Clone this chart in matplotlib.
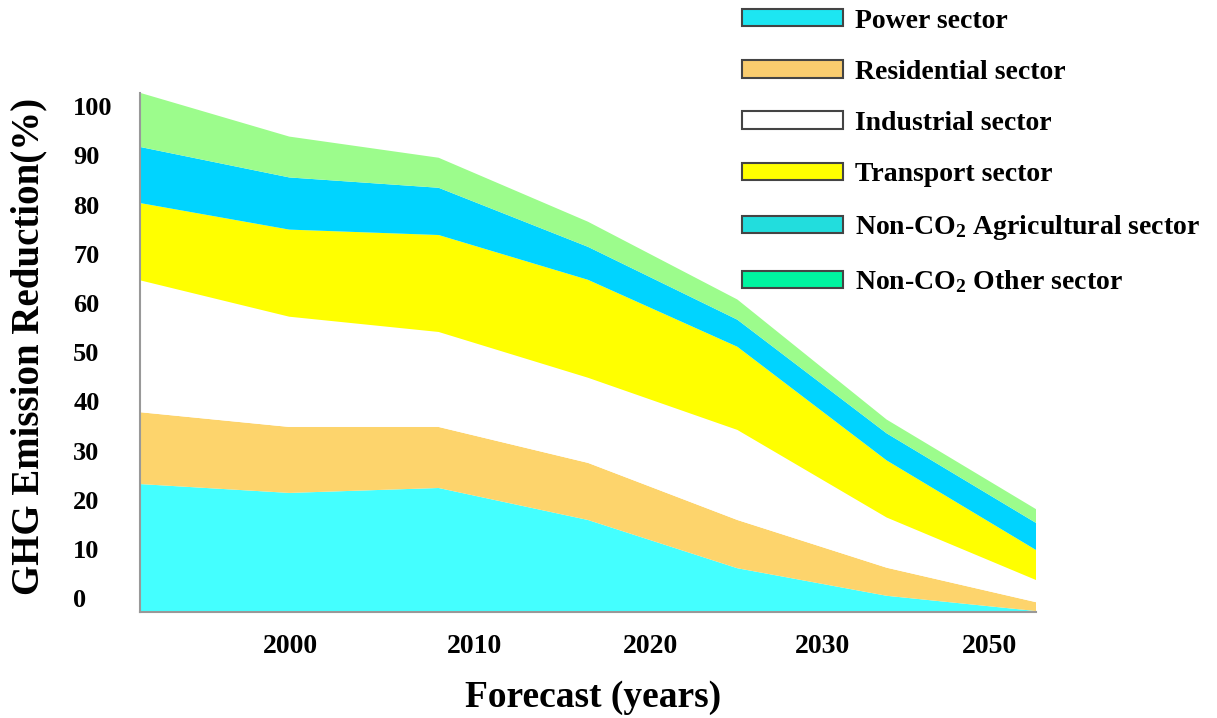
import numpy as np
import matplotlib.pyplot as plt
from matplotlib.patches import Patch

plt.rcParams['font.family'] = 'Liberation Serif'
plt.rcParams['font.weight'] = 'bold'
plt.rcParams['axes.labelweight'] = 'bold'
plt.rcParams['mathtext.default'] = 'regular'

# Вузли прогнозу (7 точок) і внесок кожного сектору, %
points = np.arange(7)
power = [26.0, 24.2, 25.2, 18.7, 8.9, 3.3, 0.2]
residential = [14.6, 13.4, 12.4, 11.6, 9.8, 5.7, 1.8]
industrial = [26.8, 22.4, 19.3, 17.3, 18.3, 10.2, 4.5]
transport = [15.7, 17.7, 19.7, 19.9, 16.9, 11.6, 6.1]
agricultural = [11.4, 10.6, 9.6, 6.7, 5.5, 5.5, 5.5]
other = [11.0, 8.3, 6.1, 5.1, 4.1, 2.8, 2.8]

sectors = ['Power sector', 'Residential sector', 'Industrial sector',
           'Transport sector', 'Non-CO$_2$ Agricultural sector',
           'Non-CO$_2$ Other sector']
fill_colors = ['#44FFFF', '#FDD46C', '#FFFFFF', '#FFFF00', '#00D4FF', '#9CFC8C']
legend_colors = ['#1DE6F2', '#F9CC6E', '#FFFFFF', '#FFFF00', '#22DDDD', '#00F5A0']

year_labels = ['2000', '2010', '2020', '2030', '2050']
year_pos = [1.01, 2.24, 3.42, 4.57, 5.69]   # підписи не збігаються з вузлами
pct_labels = [str(v) for v in range(0, 101, 10)]

fig = plt.figure(figsize=(12.17, 7.18), dpi=100)
ax = fig.add_axes([0.115, 0.1476, 0.7363, 0.741])

ax.stackplot(points, power, residential, industrial, transport,
             agricultural, other, colors=fill_colors, linewidth=0)

ax.set_xlim(0, 6)
ax.set_ylim(0, 108.1)

# підписи осі Y в оригіналі трохи вище нульової лінії
ax.set_yticks(np.arange(0, 101, 10) + 2.8)
ax.set_yticklabels(pct_labels, fontsize=19, ha='left')
ax.tick_params(axis='y', length=0, pad=48)
ax.set_xticks(year_pos)
ax.set_xticklabels(year_labels, fontsize=20)
ax.tick_params(axis='x', length=0, pad=16)

for side in ['top', 'right']:
    ax.spines[side].set_visible(False)
for side in ['left', 'bottom']:
    ax.spines[side].set_color('#999999')
    ax.spines[side].set_linewidth(1.5)
total0 = power[0] + residential[0] + industrial[0] + transport[0] + agricultural[0] + other[0]
ax.spines['left'].set_bounds(0, total0)

ax.set_ylabel('GHG Emission Reduction(%)', fontsize=28)
ax.yaxis.set_label_coords(-0.1038, 0.5)
ax.set_xlabel('Forecast (years)', fontsize=27)
ax.xaxis.set_label_coords(0.5056, -0.128)

handles = [Patch(facecolor=c, edgecolor='#444444', linewidth=1.5) for c in legend_colors]
ax.legend(handles, sectors, loc='upper left', bbox_to_anchor=(0.6097, 0.988),
          bbox_transform=fig.transFigure, frameon=False, fontsize=20,
          borderpad=0, borderaxespad=0, handlelength=3.63, handleheight=0.58,
          handletextpad=0.43, labelspacing=0.94)

fig.savefig('out.png', dpi=100)
